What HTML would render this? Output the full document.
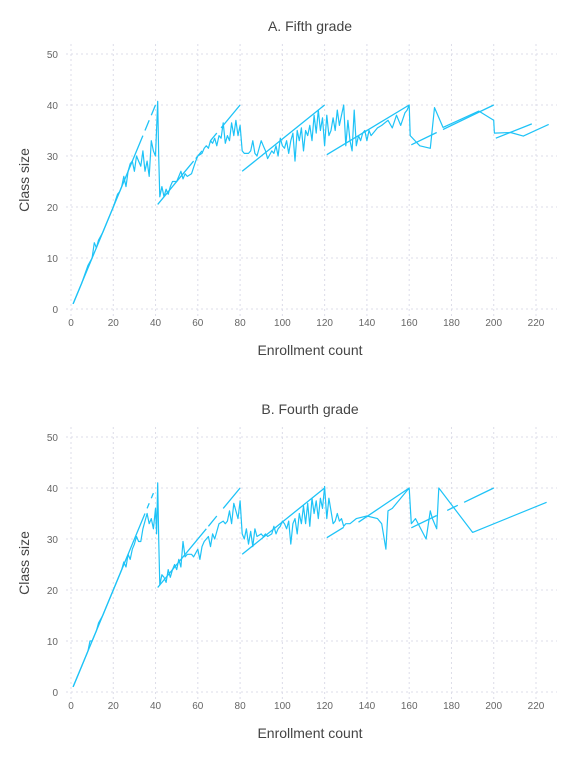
<!DOCTYPE html>
<html><head><meta charset="utf-8"><style>
body{margin:0;background:#fff;}
svg text{font-family:"Liberation Sans",sans-serif;}
</style></head><body>
<svg id="chart" width="576" height="768" xmlns="http://www.w3.org/2000/svg"></svg>
<script>
const xTicks=[0,20,40,60,80,100,120,140,160,180,200,220];
const yTicks=[0,10,20,30,40,50];
// Panel A (fifth grade) actual class size
const fifthEnroll=[1,5,8,10,11,12,13,15,18,20,22,23,24,25,26,27,28,29,30,31,32,33,34,35,36,37,38,39,40,41,41.5,42,43,44,45,46,47,48,50,52,53,54,55,57,59,60,62,63,64,65,66,67,68,69,70,71,72,73,74,75,76,77,78,79,80,81,82,84,85,86,87,88,90,91,92,93,95,96,97,98,99,100,101,102,103,104,105,106,107,108,109,110,111,112,113,114,115,116,117,118,119,120,121,122,123,124,125,126,127,128,129,130,131,132,133,134,135,136,137,138,139,140,141,142,145,147,150,152,154,156,158,159,160,160.5,165,170,172,176,193,200,200.3,208,214,226];
const fifthSize=[1,5,8.5,10,13,12,13.5,15,18,20,22.5,23,24,26,24,27,28.5,29,27,30,29,28,31,27,29,26,33,31,30,40.7,30,22,24,22,23.5,22.5,24,25,25,27,25.5,26.5,26,26.5,29,30,30.5,31.5,32,31.5,33,32.5,33.5,32,34,33.5,36.5,32.5,34,33,36.5,34,37,34,36,31,30.5,30.5,31,33,30.5,30,33,32,31,29.5,31,30.5,32,30,33.5,32,31.5,33,30.5,33,34.5,29,35,33,35.5,31,35,34,36,33,38,34.5,39,35,37.5,32,38,34,35,37.5,35,39,36,38,40,32,37,33,31,39,32,34,33,34.5,35,33,35,34,35.5,36,37,35.5,38,36,38.5,39,40,34,32,31.5,39.5,35.6,38.8,37,34.5,34.6,33.9,36.2];
// Panel A predicted class size (null = gap)
const fifthPredE=[1,34,null,35,37,null,38,40,null,41,58,null,59,62,null,66,69,null,71,80,null,81,120,null,121,160,null,161,173,null,176,200,null,201,218];
const fifthPredV=[1,34,null,35,37,null,38,40,null,20.5,29,null,29.5,31,null,33,34.5,null,35.5,40,null,27,40,null,30.25,40,null,32.2,34.6,null,35.2,40,null,33.5,36.3];
// Panel B (fourth grade)
const fourthEnroll=[1,5,8,9,10,12,13,15,18,20,22,24,25,26,27,28,29,30,31,32,33,34,35,36,37,38,39,40,40.5,41,41.5,42,43,44,45,46,47,48,49,50,51,52,53,54,55,57,58,60,61,62,63,65,66,67,68,70,72,73,74,75,76,77,78,79,80,81,82,83,84,85,86,87,88,90,91,92,93,95,96,97,98,99,100,101,102,103,104,105,106,107,108,109,110,111,112,113,114,115,116,117,118,119,120,121,122,123,124,125,126,127,128,129,130,132,135,140,145,147,149,150,152,156,160,161,163,168,170,171,173,174,190,225];
const fourthSize=[1,5,8,10,10,12,13.5,15,18,20,22,24,25.5,24.5,27,26,28,29,30.5,29.5,29.5,32,33.5,35,33,34,32,36,31,41,30,21,23,22.5,21.5,24,22.5,24,25,24,26,24.5,29.5,26.5,27,27,26.5,28,26,28.5,29.5,30.5,28.5,31,30,33,33.5,33,33.5,35.5,33,37,35.5,34,37.5,31,30,32,29,31.5,28.5,32,30.5,31,30.5,31,30.5,31,32.5,31,32,32.5,33.5,33,32,33.5,29,33,34,31,35,33,36.5,33,37,32.5,38,35,37.5,34,38,36,40.3,34,38,35.5,33,33.5,35,33.5,34,32.5,33,33,34,34.5,34,33,28,35.5,36,38,40,33,34,30,35.5,34,32,40,31.3,37.2];
const fourthPredE=[1,35,null,36,37,null,38,39,null,41,64,null,65,69,null,72,80,null,81,120,null,121,129,null,136,160,null,161,173,null,178,183,null,186,200];
const fourthPredV=[1,35,null,36,37,null,38,39,null,20.5,32,null,32.5,34.5,null,36,40,null,27,40,null,30.25,32.3,null,33.3,40,null,32.2,34.6,null,35.6,36.6,null,37.2,40];

const NS="http://www.w3.org/2000/svg";
const svg=document.getElementById('chart');
function mk(tag,attrs,parent){const e=document.createElementNS(NS,tag);for(const k in attrs)e.setAttribute(k,attrs[k]);(parent||svg).appendChild(e);return e;}

function panel(key,title,top,enroll,size,predE,predV){
  const g=mk('g',{});
  
  
  const x0=71,x220=536,y0=top+265,y50=top+10;
  const sx=v=>x0+v*(x220-x0)/220;
  const sy=v=>y0-v*(y0-y50)/50;
  for(const t of yTicks){
    const l=mk('line',{x1:66,x2:557,y1:sy(t),y2:sy(t),stroke:'#dcdce8','stroke-dasharray':'2,3','stroke-width':1},g);
    
    
    const tx=mk('text',{x:58,y:sy(t)+4,'text-anchor':'end','font-size':10,fill:'#666'},g);
    tx.textContent=t;
    
    
  }
  for(const t of xTicks){
    const l=mk('line',{x1:sx(t),x2:sx(t),y1:top,y2:top+272,stroke:'#dcdce8','stroke-dasharray':'2,3','stroke-width':1},g);
    
    
    const tx=mk('text',{x:sx(t),y:top+282,'text-anchor':'middle','font-size':10,fill:'#666'},g);
    tx.textContent=t;
    
    
  }
  const ti=mk('text',{x:310,y:top-13,'text-anchor':'middle','font-size':14,fill:'#444'},g);
  ti.textContent=title;
  
  
  const xl=mk('text',{x:310,y:top+311,'text-anchor':'middle','font-size':14,fill:'#444'},g);
  xl.textContent='Enrollment count';
  
  
  const cy=top+136;
  const yl=mk('text',{x:29,y:cy,'text-anchor':'middle','font-size':14,fill:'#444',transform:'rotate(-90 29 '+cy+')'},g);
  yl.textContent='Class size';
  
  
  // predicted
  let d='',pen=false;
  for(let i=0;i<predE.length;i++){
    if(predE[i]===null){pen=false;continue;}
    d+=(pen?'L':'M')+sx(predE[i]).toFixed(1)+','+sy(predV[i]).toFixed(1);pen=true;
  }
  const pp=mk('path',{d:d,fill:'none',stroke:'#1ec3f7','stroke-width':1.3},g);
  
  
  let d2='';
  for(let i=0;i<enroll.length;i++)d2+=(i?'L':'M')+sx(enroll[i]).toFixed(1)+','+sy(size[i]).toFixed(1);
  const ap=mk('path',{d:d2,fill:'none',stroke:'#1ec3f7','stroke-width':1.2,'stroke-linejoin':'round'},g);
  
  
}
panel('fifth-grade','A. Fifth grade',44,fifthEnroll,fifthSize,fifthPredE,fifthPredV);
panel('fourth-grade','B. Fourth grade',427,fourthEnroll,fourthSize,fourthPredE,fourthPredV);
</script>
</body></html>
